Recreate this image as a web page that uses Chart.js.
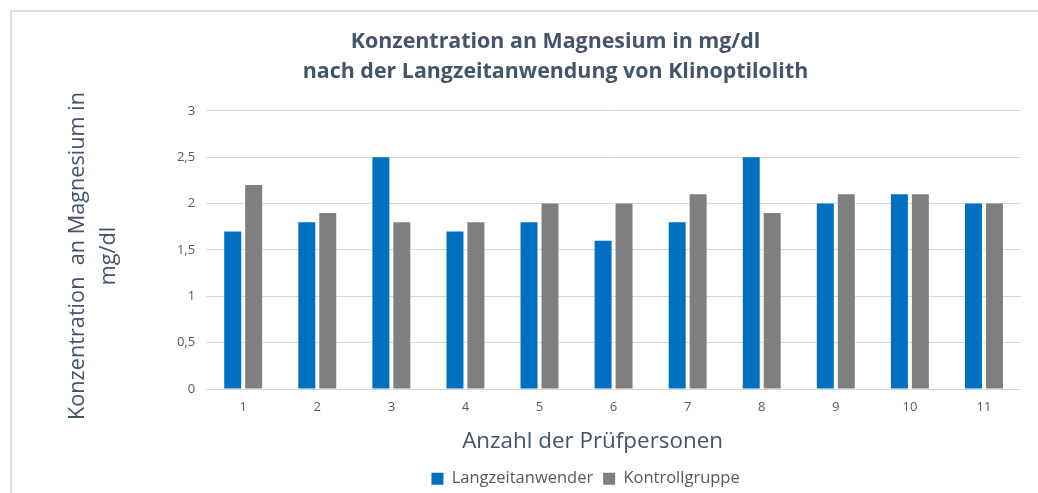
<!DOCTYPE html>
<html>
<head>
<meta charset="utf-8">
<script src="https://cdn.jsdelivr.net/npm/chart.js@4/dist/chart.umd.min.js"></script>
<style>
  html, body { margin: 0; padding: 0; background: #fff; }
  #wrap { position: relative; width: 1038px; height: 493px; }
  #frame { position: absolute; left: 10px; top: 10px; right: -5px; bottom: -5px;
           border-top: 2px solid #dcdcdc; border-left: 2px solid #dcdcdc; pointer-events: none; }
  canvas { position: absolute; left: 0; top: 0; }
</style>
</head>
<body>
<div id="wrap">
  <canvas id="c" width="1038" height="493"></canvas>
  <div id="frame"></div>
</div>
<script>
const categories = ['1','2','3','4','5','6','7','8','9','10','11'];
const langzeitanwender = [1.7, 1.8, 2.5, 1.7, 1.8, 1.6, 1.8, 2.5, 2.0, 2.1, 2.0];
const kontrollgruppe   = [2.2, 1.9, 1.8, 1.8, 2.0, 2.0, 2.1, 1.9, 2.1, 2.1, 2.0];
const yTickValues = [0, 0.5, 1, 1.5, 2, 2.5, 3];
const yTickLabels = ['0', '0,5', '1', '1,5', '2', '2,5', '3'];
const seriesNames = ['Langzeitanwender', 'Kontrollgruppe'];
const titleLines = ['Konzentration an Magnesium in mg/dl', 'nach der Langzeitanwendung von Klinoptilolith'];
const yTitleLines = ['Konzentration  an Magnesium in', 'mg/dl'];
const xTitle = 'Anzahl der Prüfpersonen';

const FONT = "'Open Sans', 'Noto Sans', sans-serif";

// small placement offsets for text blocks, matching the reference layout
function shiftDraw(obj, method, dx, dy) {
  if (!obj || obj['_shift_' + method]) return;
  const orig = obj[method];
  obj[method] = function () {
    const ctx = this.ctx; ctx.save(); ctx.translate(dx, dy); orig.apply(this, arguments); ctx.restore();
  };
  obj['_shift_' + method] = true;
}
const shiftPlugin = {
  id: 'shift',
  afterLayout(chart) {
    shiftDraw(chart.scales.x, 'drawTitle', -21, 0);
    shiftDraw(chart.scales.y, 'drawTitle', 0, 6);
    shiftDraw(chart.legend, 'draw', -28, 5);
    shiftDraw(chart.titleBlock, 'draw', 14, 0);
  }
};

new Chart(document.getElementById('c'), {
  type: 'bar',
  data: {
    labels: categories,
    datasets: [
      { label: seriesNames[0], data: langzeitanwender, backgroundColor: '#0070C0',
        categoryPercentage: 0.566, barPercentage: 0.81 },
      { label: seriesNames[1], data: kontrollgruppe, backgroundColor: '#7F7F7F',
        categoryPercentage: 0.566, barPercentage: 0.81 }
    ]
  },
  plugins: [shiftPlugin],
  options: {
    responsive: false,
    animation: false,
    layout: { padding: { left: 62, right: 17, top: 22, bottom: 1 } },
    plugins: {
      title: {
        display: true,
        text: titleLines,
        color: '#44546A',
        font: { family: FONT, size: 21.4, weight: 'bold', lineHeight: 1.4 },
        padding: { top: 5, bottom: 24 }
      },
      legend: {
        position: 'bottom',
        fullSize: false,
        labels: {
          color: '#595959',
          font: { family: FONT, size: 16.5 },
          boxWidth: 12, boxHeight: 12,
          padding: 10
        }
      },
      tooltip: { enabled: false }
    },
    scales: {
      x: {
        grid: { display: false, drawTicks: false },
        border: { display: false },
        ticks: { color: '#595959', font: { family: FONT, size: 13 }, padding: 10 },
        title: { display: true, text: xTitle, color: '#44546A',
                 font: { family: FONT, size: 22.4 }, padding: { top: 4, bottom: 0 } }
      },
      y: {
        min: 0, max: 3,
        afterBuildTicks: (s) => { s.ticks = yTickValues.map(v => ({ value: v })); },
        grid: { color: '#d9d9d9', lineWidth: 1, drawTicks: false },
        border: { display: false },
        ticks: {
          color: '#595959', font: { family: FONT, size: 13 }, padding: 11,
          callback: (v) => { const i = yTickValues.indexOf(v); return i >= 0 ? yTickLabels[i] : ''; }
        },
        title: { display: true, text: yTitleLines, color: '#44546A',
                 font: { family: FONT, size: 21.7, lineHeight: 1.45 }, padding: { top: 0, bottom: 41 } }
      }
    }
  }
});
</script>
</body>
</html>
